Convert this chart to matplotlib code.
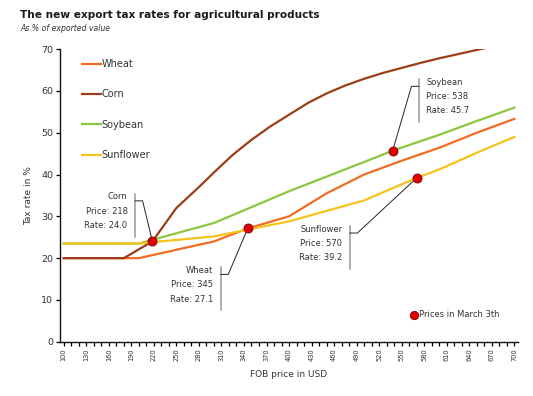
"""Export tax rates chart."""

import matplotlib
matplotlib.use("Agg")
import matplotlib.pyplot as plt
from matplotlib.lines import Line2D

# series knots (FOB price in USD -> tax rate in %)
wheat_price = [100, 200, 300, 345, 400, 450, 500, 550, 600, 650, 700]
wheat_rate = [20, 20, 24, 27.1, 30, 35.5, 40, 43.3, 46.4, 50, 53.3]

corn_price = [100, 180, 218, 250, 280, 300, 325, 350, 375, 400, 425, 450, 475,
              500, 525, 550, 575, 600, 625, 650, 675, 700]
corn_rate = [20, 20, 24, 32, 37, 40.5, 44.7, 48.3, 51.5, 54.3, 57.1, 59.4, 61.3,
             62.9, 64.3, 65.5, 66.7, 67.8, 68.8, 69.8, 70.8, 71.8]

soy_price = [100, 200, 300, 400, 450, 500, 538, 600, 650, 700]
soy_rate = [23.5, 23.5, 28.4, 36, 39.5, 43, 45.7, 49.5, 52.8, 56]

sun_price = [100, 200, 300, 400, 500, 570, 600, 650, 700]
sun_rate = [23.5, 23.5, 25.2, 28.8, 33.8, 39.2, 41.2, 45.2, 49]

march_names = ["Corn", "Wheat", "Soybean", "Sunflower"]
march_price = [218, 345, 538, 570]
march_rate = [24.0, 27.1, 45.7, 39.2]

x_ticks = list(range(100, 701, 10))
y_ticks = list(range(0, 71, 10))

WHEAT = "#f26b21"
CORN = "#9b3e17"
SOY = "#8dc63f"
SUN = "#f7c31b"
TEXT = "#333333"

# callout layout: bracket x, bracket top, hook direction (+1 hook right of bracket)
callouts = {
    "Corn": (195, 35.4, 1),
    "Wheat": (309, 17.8, 1),
    "Soybean": (573, 62.8, -1),
    "Sunflower": (481, 27.7, 1),
}

fig = plt.figure(figsize=(5.33, 3.96), dpi=100)
ax = fig.add_axes([0.1126, 0.137, 0.8594, 0.739])

ax.plot(wheat_price, wheat_rate, color=WHEAT, lw=1.6, label="Wheat", zorder=3)
ax.plot(corn_price, corn_rate, color=CORN, lw=1.6, label="Corn", zorder=3)
ax.plot(soy_price, soy_rate, color=SOY, lw=1.6, label="Soybean", zorder=3)
ax.plot(sun_price, sun_rate, color=SUN, lw=1.6, label="Sunflower", zorder=3)

ax.plot(march_price, march_rate, ls="none", marker="o", ms=6.5,
        mfc="#e00000", mec="#7a0000", mew=0.6, zorder=5)

for name, px, py in zip(march_names, march_price, march_rate):
    bx, top, side = callouts[name]
    hook_y = top - 1.7
    hook_x = bx + side * 10
    ax.plot([bx, bx], [top, top - 10.3], color="#999999", lw=1.1, zorder=2)
    ax.plot([bx, hook_x, px], [hook_y, hook_y, py], color="#222222", lw=0.7, zorder=2)
    if side > 0:
        tx, ha = bx - 10, "right"
    else:
        tx, ha = bx + 10, "left"
    ax.text(tx, top + 0.3, f"{name}\nPrice: {px}\nRate: {py:.1f}", ha=ha, va="top",
            fontsize=6, color=TEXT, linespacing=1.75)

ax.set_xlim(95, 705)
ax.set_ylim(0, 70)
ax.set_xticks(x_ticks)
ax.set_xticklabels([str(v) if (v - 100) % 30 == 0 else "" for v in x_ticks],
                   rotation=90, fontsize=4.8, color=TEXT)
ax.set_yticks(y_ticks)
ax.set_yticklabels([str(v) for v in y_ticks], fontsize=6.8, color=TEXT)
ax.tick_params(axis="x", length=3, width=0.9, pad=2)
ax.tick_params(axis="y", length=3, width=0.9, pad=2)

for s in ["top", "right"]:
    ax.spines[s].set_visible(False)
for s in ["left", "bottom"]:
    ax.spines[s].set_linewidth(1.0)
    ax.spines[s].set_color("#111111")

ax.set_xlabel("FOB price in USD", fontsize=6.5, color=TEXT, labelpad=6)
ax.set_ylabel("Tax rate in %", fontsize=6.5, color=TEXT, labelpad=6)

leg = ax.legend(loc="upper left", bbox_to_anchor=(0.047, 0.966), frameon=False,
                fontsize=7, handlelength=2.0, handletextpad=0.05,
                labelspacing=2.1, borderpad=0, borderaxespad=0)
for t in leg.get_texts():
    t.set_color(TEXT)
ax.add_artist(leg)

dot = Line2D([], [], ls="none", marker="o", ms=6, mfc="#e00000", mec="#7a0000", mew=0.6)
leg2 = ax.legend([dot], ["Prices in March 3th"], loc="upper left",
                 bbox_to_anchor=(0.766, 0.107), frameon=False, fontsize=6,
                 handlelength=0.8, handletextpad=0.2, borderpad=0, borderaxespad=0)
for t in leg2.get_texts():
    t.set_color(TEXT)

fig.text(0.0375, 0.962, "The new export tax rates for agricultural products",
         fontsize=7.6, fontweight="bold", color="#1a1a1a", va="center")
fig.text(0.0375, 0.928, "As % of exported value", fontsize=5.6, style="italic",
         color=TEXT, va="center")

fig.savefig("out.png", dpi=100)
